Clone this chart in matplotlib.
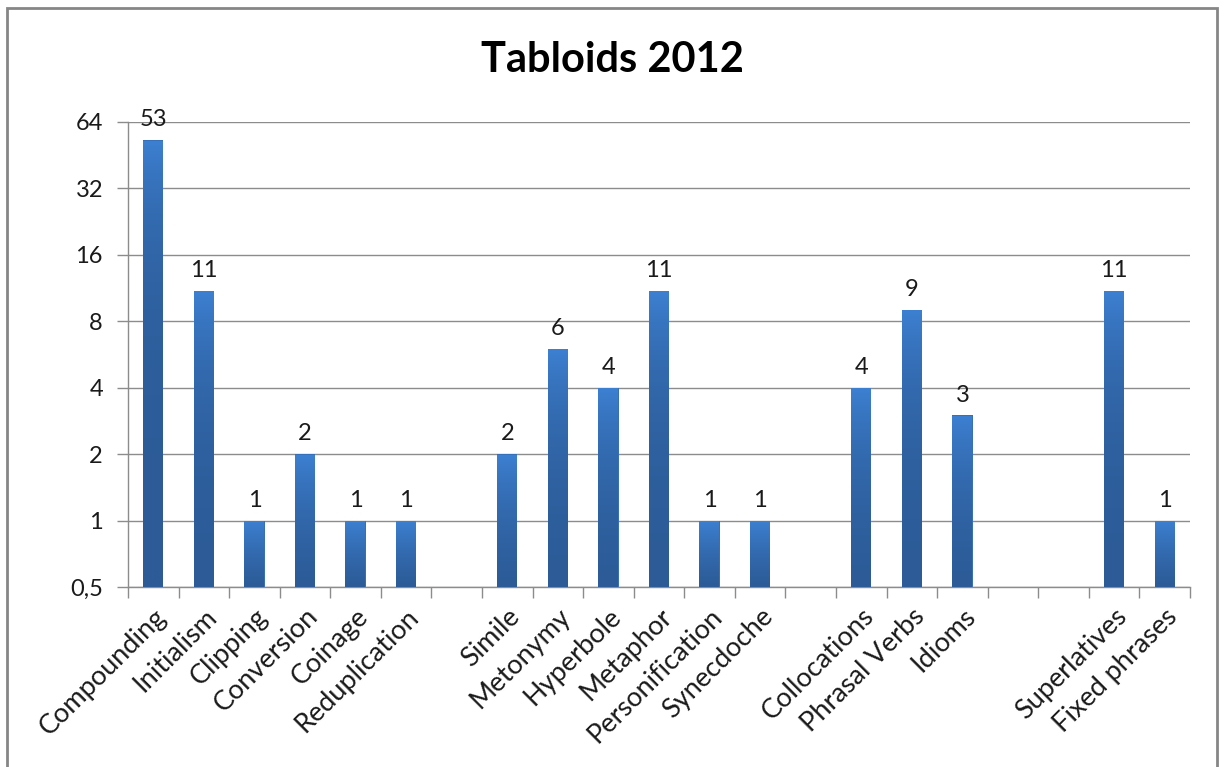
import numpy as np
import matplotlib.pyplot as plt
from matplotlib.patches import Rectangle
from matplotlib.colors import LinearSegmentedColormap
from matplotlib.ticker import FixedLocator, NullLocator

plt.rcParams['font.family'] = ['Lato', 'DejaVu Sans']

# Data (empty strings are the gaps between groups)
categories = ['Compounding', 'Initialism', 'Clipping', 'Conversion', 'Coinage',
              'Reduplication', '', 'Simile', 'Metonymy', 'Hyperbole', 'Metaphor',
              'Personification', 'Synecdoche', '', 'Collocations', 'Phrasal Verbs',
              'Idioms', '', '', 'Superlatives', 'Fixed phrases']
values = [53, 11, 1, 2, 1, 1, None, 2, 6, 4, 11, 1, 1, None, 4, 9, 3, None, None, 11, 1]
y_ticks = [0.5, 1, 2, 4, 8, 16, 32, 64]
y_labels = ['0,5', '1', '2', '4', '8', '16', '32', '64']

fig = plt.figure(figsize=(12.24, 7.67), dpi=100)
ax = fig.add_axes([128 / 1224, 1 - 587 / 767, 1062 / 1224, 465 / 767])

# outer chart frame
fig.patches.append(Rectangle((7 / 1224, -0.05), 1210 / 1224, 1 - 8 / 767 + 0.05,
                             transform=fig.transFigure, fill=False,
                             edgecolor='#868686', linewidth=2))

grad = LinearSegmentedColormap.from_list('bar', ['#2c5b97', '#3d80d2'])
gimg = np.linspace(0, 1, 256).reshape(-1, 1)
base = 0.5
width = 0.4

for i, v in enumerate(values):
    if v is None:
        continue
    bar = ax.bar(i, v - base, bottom=base, width=width, color='#3570b8',
                 edgecolor='none', zorder=2)[0]
    im = ax.imshow(gimg, cmap=grad, origin='lower', aspect='auto',
                   extent=(i - width / 2, i + width / 2, base, v), zorder=3)
    im.set_clip_path(bar)
    ax.annotate(str(v), (i, v), xytext=(0, 7), textcoords='offset points',
                ha='center', va='bottom', fontsize=17, color='#1a1a1a')

ax.set_yscale('log', base=2)
ax.set_ylim(0.5, 64)
ax.set_xlim(-0.5, len(categories) - 0.5)

ax.yaxis.set_major_locator(FixedLocator(y_ticks))
ax.yaxis.set_minor_locator(NullLocator())
ax.set_yticklabels(y_labels, fontsize=17, color='#1a1a1a')
ax.grid(axis='y', color='#8c8c8c', linewidth=1, zorder=0)
ax.set_axisbelow(True)

ax.set_xticks(np.arange(len(categories)))
ax.set_xticklabels(categories, rotation=45, ha='right', rotation_mode='anchor',
                   fontsize=19.5, color='#1a1a1a')
ax.tick_params(axis='x', length=0, pad=12)
ax.set_xticks(np.arange(len(categories) + 1) - 0.5, minor=True)
ax.tick_params(axis='x', which='minor', length=8, color='#8c8c8c', width=1)
ax.tick_params(axis='y', length=8, color='#8c8c8c', width=1, pad=10)

for s in ['top', 'right']:
    ax.spines[s].set_visible(False)
for s in ['left', 'bottom']:
    ax.spines[s].set_color('#8c8c8c')
    ax.spines[s].set_linewidth(1)

fig.text(612 / 1224, 1 - 60 / 767, 'Tabloids 2012', ha='center', va='center',
         fontsize=30, fontweight='bold', color='#000000')

fig.savefig('out.png', dpi=100)
